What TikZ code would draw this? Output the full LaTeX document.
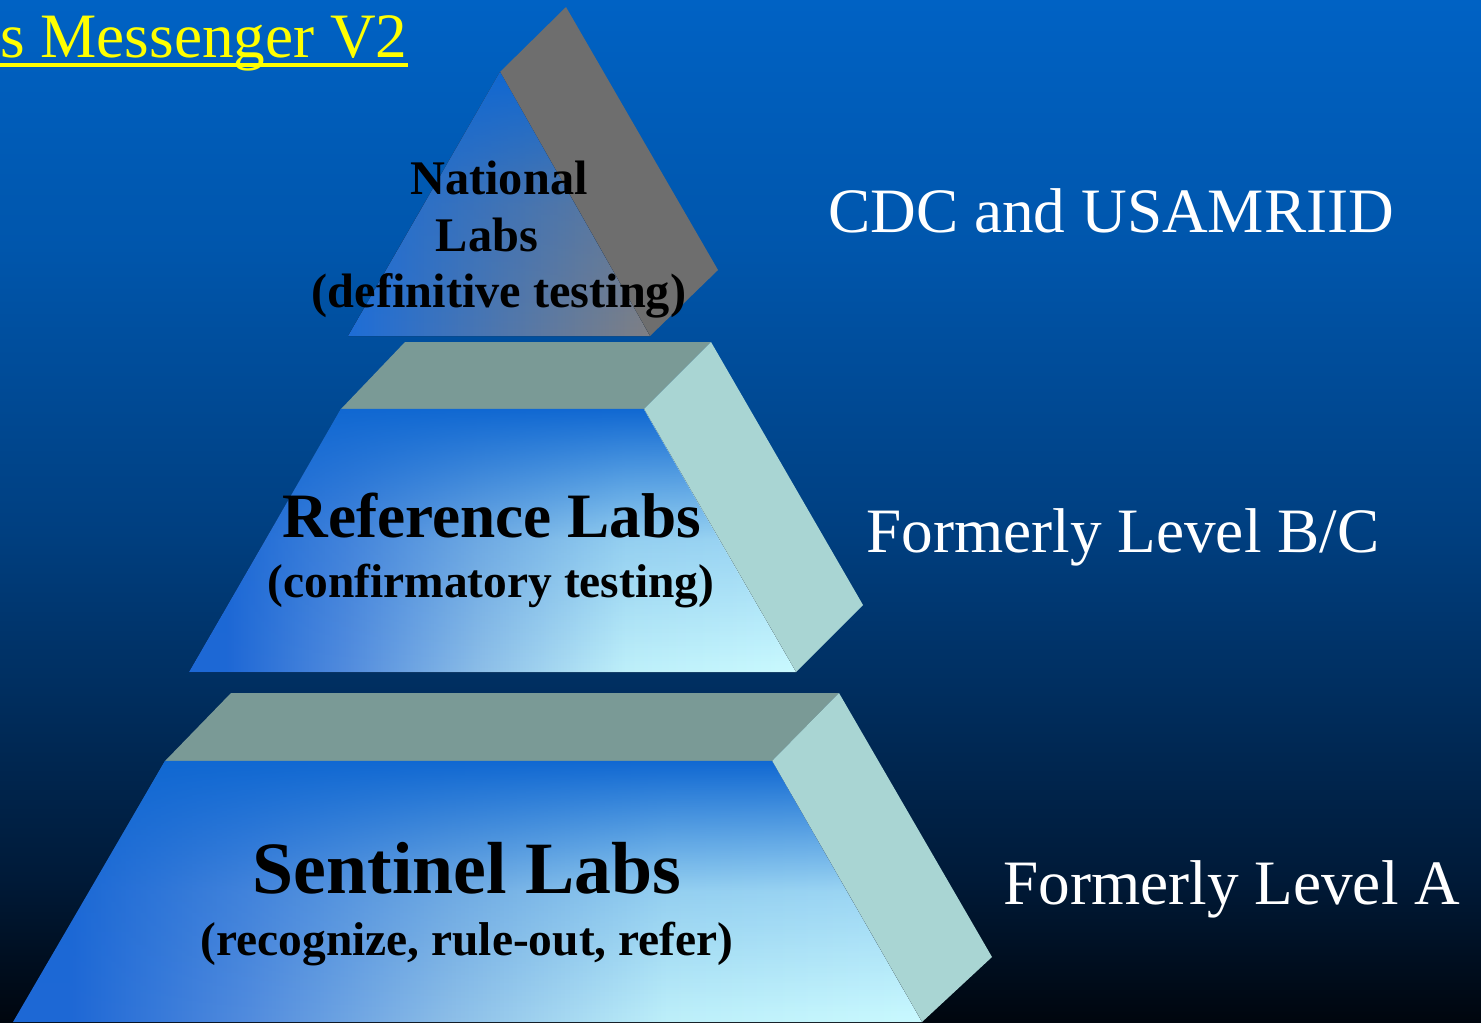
\documentclass[tikz,border=0pt]{standalone}
\usepackage{fontspec}
\setmainfont{Liberation Serif}
\usetikzlibrary{fadings}

\definecolor{bgtop}{RGB}{0,98,196}
\definecolor{bghigh}{RGB}{0,86,172}
\definecolor{bgmid}{RGB}{0,63,128}
\definecolor{bglow}{RGB}{0,26,56}
\definecolor{bgbot}{RGB}{0,6,14}
\definecolor{lidgray}{RGB}{122,154,150}
\definecolor{flankcyan}{RGB}{169,213,211}
\definecolor{apexgray}{RGB}{110,110,110}
\definecolor{apexleft}{RGB}{30,110,215}
\definecolor{apexright}{RGB}{128,128,132}
\definecolor{faceleft}{RGB}{30,104,214}
\definecolor{facesoft}{RGB}{82,140,222}
\definecolor{facemid}{RGB}{140,190,232}
\definecolor{facelight}{RGB}{190,240,250}
\definecolor{faceright}{RGB}{202,250,255}
\definecolor{facetop}{RGB}{16,104,210}
\definecolor{titleyellow}{RGB}{255,255,0}

\pgfdeclareverticalshading{bgshade}{100bp}{color(0bp)=(bgbot); color(25bp)=(bgbot);
  color(32bp)=(bglow); color(49bp)=(bgmid); color(63bp)=(bghigh); color(75bp)=(bgtop); color(100bp)=(bgtop)}
\pgfdeclarehorizontalshading{faceshade}{100bp}{color(0bp)=(faceleft); color(25bp)=(faceleft);
  color(28bp)=(faceleft); color(38bp)=(facesoft); color(49bp)=(facemid); color(61bp)=(facelight); color(75bp)=(faceright); color(100bp)=(faceright)}
\tikzfading[name=topfade, top color=transparent!0, bottom color=transparent!100, middle color=transparent!76]

\begin{document}
\begin{tikzpicture}[x=0.02cm, y=-0.02cm,
    front/.style={shading=faceshade},
    glow/.style={fill=facetop, path fading=topfade},
    lid/.style={fill=lidgray},
    flank/.style={fill=flankcyan},
    tier/.style={text=black, anchor=base, inner sep=0pt, font=\bfseries\fontsize{#1}{#1}\selectfont},
    level/.style={text=white, anchor=base west, inner sep=0pt, font=\fontsize{36}{43}\selectfont}]

    % 1. Background, blue fading to black
    \useasboundingbox (0,0) rectangle (1481,1022);
    \fill[shading=bgshade] (0,0) rectangle (1481,1022);

    % 2. Title, cut at the left edge
    \node[text=titleyellow, anchor=base east, inner sep=0pt, font=\fontsize{36}{43}\selectfont]
        (title) at (408,57) {s Messenger V2};
    \draw[titleyellow, line width=2.3pt] (0,65) -- (title.base east |- 0,65);

    % 3. Top tier: National Labs
    \fill[apexgray] (500,72) -- (566,7) -- (718,270) -- (650,336) -- cycle;
    \fill[left color=apexleft, right color=apexright] (500,72) -- (650,336) -- (348,336) -- cycle;
    \fill[glow] (500,72) -- (650,336) -- (348,336) -- cycle;

    % 4. Middle tier: Reference Labs
    \fill[lid] (405,342) -- (711,342) -- (644,409) -- (341,409) -- cycle;
    \fill[flank] (644,409) -- (711,342) -- (863,605) -- (796,672) -- cycle;
    \fill[front] (341,409) -- (644,409) -- (796,672) -- (189,672) -- cycle;
    \fill[glow] (341,409) -- (644,409) -- (796,672) -- (189,672) -- cycle;

    % 5. Bottom tier: Sentinel Labs
    \fill[lid] (231,693) -- (839,693) -- (772,761) -- (165,761) -- cycle;
    \fill[flank] (772,761) -- (839,693) -- (992,957) -- (922,1022) -- cycle;
    \fill[front] (165,761) -- (772,761) -- (922,1022) -- (13,1022) -- cycle;
    \fill[glow] (165,761) -- (772,761) -- (922,1022) -- (13,1022) -- cycle;

    % 6. Texts on the tiers
    \node[tier=27.5] (natl) at (499,194) {National};
    \node[tier=27.5] (natllabs) at (487,251) {Labs};
    \node[tier=27.5] (natlnote) at (499,307) {(definitive testing)};
    \node[tier=36] (ref) at (492,537) {Reference Labs};
    \node[tier=27] (refnote) at (491,597) {(confirmatory testing)};
    \node[tier=42] (sent) at (467,893) {Sentinel Labs};
    \node[tier=27] (sentnote) at (467,955) {(recognize, rule-out, refer)};

    % 7. Labels on the right
    \node[level] (cdc) at (828,232) {CDC and USAMRIID};
    \node[level] (levelbc) at (866,552) {Formerly Level B/C};
    \node[level] (levela) at (1003,904) {Formerly Level A};

\end{tikzpicture}
\end{document}
